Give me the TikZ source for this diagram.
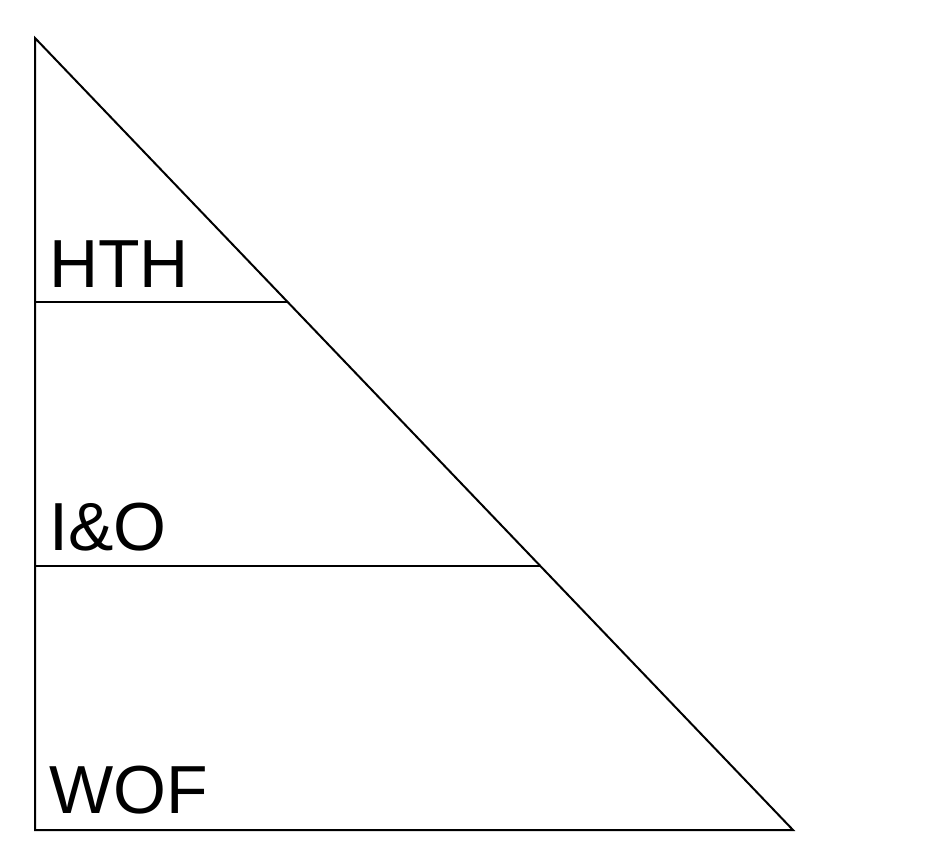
\documentclass[tikz,border=0pt]{standalone}
\usepackage{fontspec}
\setmainfont{Liberation Sans}
\begin{document}
\begin{tikzpicture}[x=1pt,y=-1pt,
  edge/.style={draw=black,line width=2pt,line join=miter},
  lbl/.style={anchor=base west,inner sep=0pt,font=\fontsize{68}{68}\selectfont}]
\useasboundingbox (0,0) rectangle (938,846);
\coordinate (top) at (35,38);
\coordinate (bl) at (35,830);
\coordinate (br) at (793,830);
\coordinate (l1) at (35,302);
\coordinate (r1) at (287,302);
\coordinate (l2) at (35,566);
\coordinate (r2) at (540,566);
\draw[edge] (top) -- (bl) -- (br) -- cycle;
\draw[edge] (l1) -- (r1);
\draw[edge] (l2) -- (r2);
\node[lbl] (hth) at (49,287) {HTH};
\node[lbl] (io) at (49,550) {I\&O};
\node[lbl] (wof) at (49,813) {WOF};
\end{tikzpicture}
\end{document}
